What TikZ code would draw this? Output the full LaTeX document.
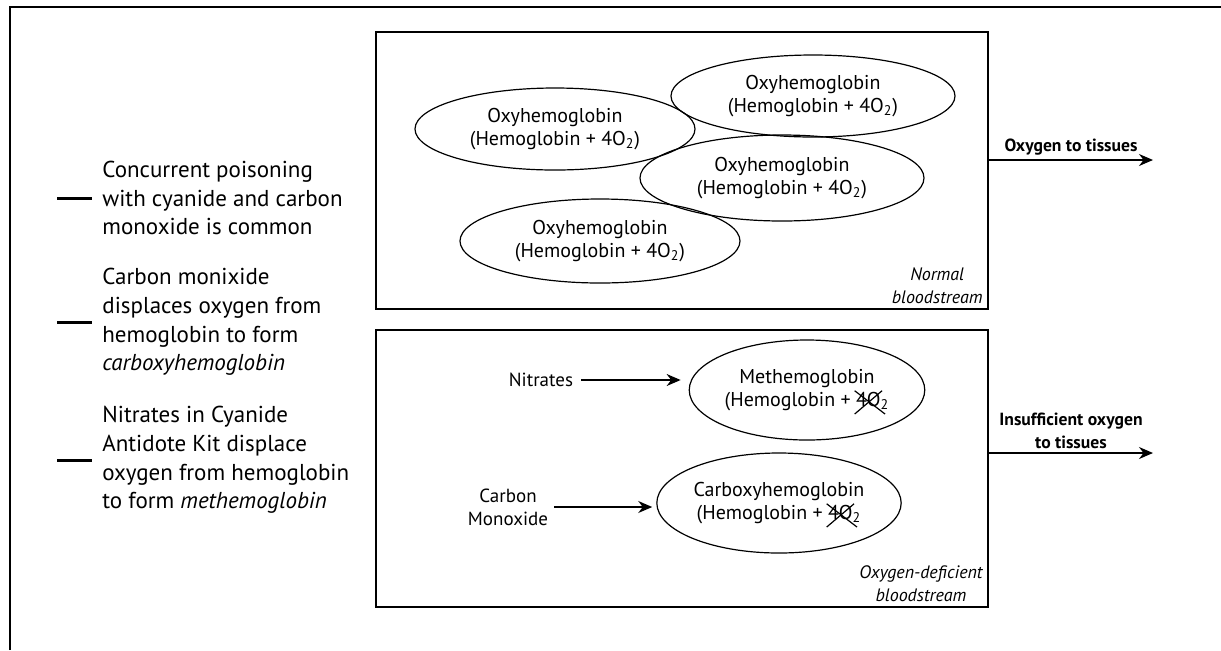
\documentclass[tikz,border=0pt]{standalone}
\usepackage{fontspec}
\setmainfont{PT Sans}
\usepackage{tikz}
\usetikzlibrary{shapes,arrows.meta,positioning}

% crossed-out oxygen in the deficient blood
\newcommand{\strikeX}[1]{\tikz[baseline=(w.base)]{\node[shape=rectangle, draw=none, inner sep=0pt, minimum width=0pt, minimum height=0pt] (w) {#1};
  \draw[overlay, line width=0.6pt] ([xshift=-0.5pt,yshift=0.5pt]w.north west) -- ([xshift=2pt,yshift=-3.5pt]w.south east);
  \draw[overlay, line width=0.6pt] ([xshift=0.5pt,yshift=0.5pt]w.north east) -- ([xshift=-0.5pt,yshift=-3.5pt]w.south west);}}

\tikzset{
  blob/.style={ellipse, draw, line width=0.6pt, inner sep=0.5pt, align=center, font=\fontsize{10}{11.5}\selectfont},
  panel/.style={draw, line width=1pt, inner sep=0pt, minimum width=306pt, minimum height=138.5pt},
  note/.style={align=left, anchor=west, inner sep=0pt, font=\fontsize{11.5}{14.3}\selectfont},
  tag/.style={align=center, anchor=south east, inner sep=1pt, font=\itshape\fontsize{9}{11.5}\selectfont},
  outlabel/.style={align=center, inner sep=2pt, font=\bfseries\fontsize{8.8}{11.5}\selectfont},
  agent/.style={align=center, inner sep=1pt, font=\fontsize{9.5}{11.5}\selectfont},
  arr/.style={-{Stealth[length=7pt,width=6pt]}, line width=0.7pt}
}

\begin{document}
\begin{tikzpicture}[x=0.5pt,y=-0.5pt]
\useasboundingbox (0,0) rectangle (1221,650);

% Outer frame (top and left only)
\draw[line width=1.1pt] (10,650) -- (10,7) -- (1221,7);

% Notes on the left
\node[note] (note1) at (102,198) {Concurrent poisoning\\with cyanide and carbon\\monoxide is common};
\node[note] (note2) at (102,322) {Carbon monixide\\displaces oxygen from\\hemoglobin to form\\\textit{carboxyhemoglobin}};
\node[note] (note3) at (102,460) {Nitrates in Cyanide\\Antidote Kit displace\\oxygen from hemoglobin\\to form \textit{methemoglobin}};
\foreach \n in {note1,note2,note3}
  \draw[line width=1.5pt] ([xshift=-22.5pt]\n.west) -- ([xshift=-5pt]\n.west);

% Normal bloodstream
\node[panel] (normal) at (682,170.5) {};
\node[blob, minimum width=140pt, minimum height=41pt] (oxy1) at (555,129) {Oxyhemoglobin\\(Hemoglobin + 4O\textsubscript{2})};
\node[blob, minimum width=142pt, minimum height=41pt] (oxy2) at (813,96) {Oxyhemoglobin\\(Hemoglobin + 4O\textsubscript{2})};
\node[blob, minimum width=142pt, minimum height=43pt] (oxy3) at (782,178) {Oxyhemoglobin\\(Hemoglobin + 4O\textsubscript{2})};
\node[blob, minimum width=140pt, minimum height=42pt] (oxy4) at (600,241) {Oxyhemoglobin\\(Hemoglobin + 4O\textsubscript{2})};
\node[tag] (normaltag) at ([xshift=-2pt,yshift=2pt]normal.south east) {Normal\\bloodstream};

% Oxygen-deficient bloodstream
\node[panel] (deficient) at (682,468.5) {};
\node[blob, minimum width=112pt, minimum height=50pt] (methb) at (807,390) {Methemoglobin\\(Hemoglobin + \strikeX{4O}\textsubscript{2}};
\node[blob, minimum width=114pt, minimum height=50pt] (carb) at (779,503) {Carboxyhemoglobin\\(Hemoglobin + \strikeX{4O}\textsubscript{2}};
\node[agent] (nitrates) at (541,380) {Nitrates};
\node[agent] (co) at (508,507) {Carbon\\Monoxide};
\node[tag] (deftag) at ([xshift=-2pt,yshift=2pt]deficient.south east) {Oxygen-deficient\\bloodstream};

% Agents acting on hemoglobin
\draw[arr, shorten <=3pt, shorten >=4pt] (nitrates) -- (nitrates -| methb.west);
\draw[arr, shorten <=2pt, shorten >=2pt] (co) -- (co -| carb.west);

% Output to tissues
\coordinate (o2tip) at (1153,160);
\coordinate (lowtip) at (1153,453);
\draw[arr] (normal.east |- o2tip) -- node[outlabel, above] (o2lbl) {Oxygen to tissues} (o2tip);
\draw[arr] (deficient.east |- lowtip) -- node[outlabel, above] (lowlbl) {Insufficient oxygen\\to tissues} (lowtip);
\end{tikzpicture}
\end{document}
